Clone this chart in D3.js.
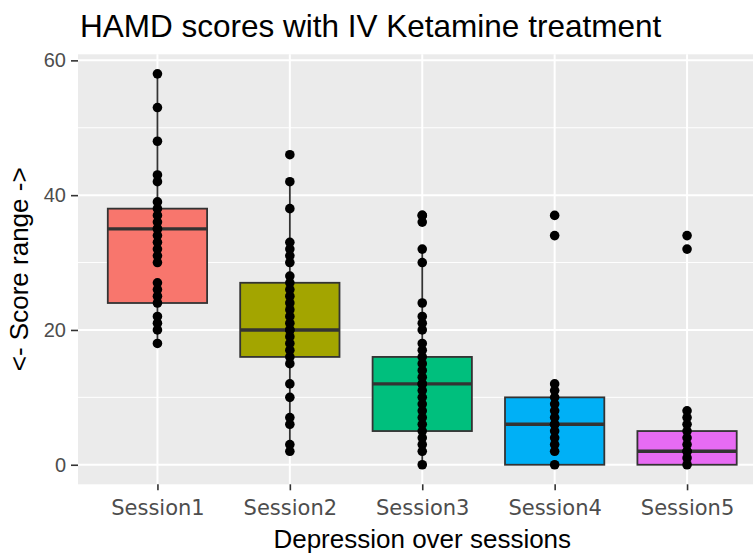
<!DOCTYPE html>
<html>
<head>
<meta charset="utf-8">
<script src="https://cdn.jsdelivr.net/npm/d3@7"></script>
<style>
  body { margin: 0; background: #fff; }
  svg { display: block; }
</style>
</head>
<body>
<div class="container"></div>
<script>
const WIDTH = 753;
const HEIGHT = 554;

// categories
var sessions = ['Session1', 'Session2', 'Session3', 'Session4', 'Session5'];
var fills = ['#F8766D', '#A3A500', '#00BF7D', '#00B0F6', '#E76BF3'];

// individual scores
var session1 = [58, 53, 48, 43, 42, 39, 38, 37, 36, 35, 35, 34, 33, 32, 31, 30, 27, 26, 25, 24, 22, 21, 20, 18];
var session2 = [46, 42, 38, 33, 32, 31, 30, 28, 27, 26, 25, 24, 23, 22, 21, 20, 20, 19, 18, 17, 16, 15, 12, 10, 7, 6, 3, 2];
var session3 = [37, 37, 36, 32, 30, 24, 22, 21, 20, 18, 17, 16, 15, 14, 13, 12, 12, 11, 10, 9, 8, 7, 6, 5, 4, 3, 2, 0];
var session4 = [37, 34, 12, 11, 10, 9, 8, 7, 6, 6, 5, 4, 3, 2, 0];
var session5 = [34, 32, 8, 7, 6, 5, 4, 3, 2, 2, 1, 0];

// box statistics
var whiskerLow = [18, 2, 0, 0, 0];
var q1 = [24, 16, 5, 0, 0];
var median = [35, 20, 12, 6, 2];
var q3 = [38, 27, 16, 10, 5];
var whiskerHigh = [58, 42, 32, 12, 8];

var yTicks = [0, 20, 40, 60];
var yMinor = [10, 30, 50];

var scores = [session1, session2, session3, session4, session5];

var svg = d3.select('.container').append('svg')
    .attr('width', WIDTH)
    .attr('height', HEIGHT);

var panel = {left: 78, right: 766.5, top: 54.3, bottom: 484.3};

var xScale = d3.scalePoint()
    .domain(sessions)
    .range([panel.left, panel.right])
    .padding(0.6);

var yScale = d3.scaleLinear()
    .domain([-2.9, 60.9])
    .range([panel.bottom, panel.top]);

var step = xScale.step();
var boxW = step * 0.75;

// panel background
svg.append('rect')
    .attr('x', panel.left).attr('y', panel.top)
    .attr('width', panel.right - panel.left)
    .attr('height', panel.bottom - panel.top)
    .attr('fill', '#EBEBEB');

// grid
svg.append('g').selectAll('line').data(yMinor)
    .enter().append('line')
    .attr('x1', panel.left).attr('x2', panel.right)
    .attr('y1', d => yScale(d)).attr('y2', d => yScale(d))
    .attr('stroke', '#fff').attr('stroke-width', 1);

svg.append('g').selectAll('line').data(yTicks)
    .enter().append('line')
    .attr('x1', panel.left).attr('x2', panel.right)
    .attr('y1', d => yScale(d)).attr('y2', d => yScale(d))
    .attr('stroke', '#fff').attr('stroke-width', 2);

svg.append('g').selectAll('line').data(sessions)
    .enter().append('line')
    .attr('x1', d => xScale(d)).attr('x2', d => xScale(d))
    .attr('y1', panel.top).attr('y2', panel.bottom)
    .attr('stroke', '#fff').attr('stroke-width', 2);

// boxes
var boxes = svg.append('g').selectAll('g').data(sessions)
    .enter().append('g');

boxes.append('line')
    .attr('x1', d => xScale(d)).attr('x2', d => xScale(d))
    .attr('y1', (d, i) => yScale(whiskerHigh[i]))
    .attr('y2', (d, i) => yScale(q3[i]))
    .attr('stroke', '#333').attr('stroke-width', 1.8);

boxes.append('line')
    .attr('x1', d => xScale(d)).attr('x2', d => xScale(d))
    .attr('y1', (d, i) => yScale(q1[i]))
    .attr('y2', (d, i) => yScale(whiskerLow[i]))
    .attr('stroke', '#333').attr('stroke-width', 1.8);

boxes.append('rect')
    .attr('x', d => xScale(d) - boxW / 2)
    .attr('width', boxW)
    .attr('y', (d, i) => yScale(q3[i]))
    .attr('height', (d, i) => yScale(q1[i]) - yScale(q3[i]))
    .attr('fill', (d, i) => fills[i])
    .attr('stroke', '#333').attr('stroke-width', 1.8);

boxes.append('line')
    .attr('x1', d => xScale(d) - boxW / 2).attr('x2', d => xScale(d) + boxW / 2)
    .attr('y1', (d, i) => yScale(median[i]))
    .attr('y2', (d, i) => yScale(median[i]))
    .attr('stroke', '#333').attr('stroke-width', 3.4);

// points
scores.forEach(function (vals, i) {
    svg.append('g').selectAll('circle').data(vals)
        .enter().append('circle')
        .attr('cx', xScale(sessions[i]))
        .attr('cy', d => yScale(d))
        .attr('r', 4.8)
        .attr('fill', '#000');
});

// axes
var xAxis = d3.axisBottom(xScale).tickSize(6).tickPadding(6);
var gx = svg.append('g')
    .attr('transform', 'translate(0,' + panel.bottom + ')')
    .call(xAxis);
gx.select('.domain').remove();
gx.selectAll('line').attr('stroke', '#333').attr('stroke-width', 1.6);
gx.selectAll('text')
    .attr('fill', '#4d4d4d')
    .style('font-family', 'DejaVu Sans')
    .style('font-size', '21px')
    .attr('dy', '0.9em');

var yAxis = d3.axisLeft(yScale).tickValues(yTicks).tickSize(7).tickPadding(5);
var gy = svg.append('g')
    .attr('transform', 'translate(' + panel.left + ',0)')
    .call(yAxis);
gy.select('.domain').remove();
gy.selectAll('line').attr('stroke', '#333').attr('stroke-width', 1.6);
gy.selectAll('text')
    .attr('fill', '#4d4d4d')
    .style('font-family', 'Liberation Sans')
    .style('font-size', '20px');

// titles
svg.append('text')
    .attr('x', 80).attr('y', 37)
    .style('font-family', 'Liberation Sans')
    .style('font-size', '31.5px')
    .attr('fill', '#000')
    .text('HAMD scores with IV Ketamine treatment');

svg.append('text')
    .attr('x', (panel.left + panel.right) / 2).attr('y', 548)
    .attr('text-anchor', 'middle')
    .style('font-family', 'Liberation Sans')
    .style('font-size', '26px')
    .attr('fill', '#000')
    .text('Depression over sessions');

svg.append('text')
    .attr('transform', 'translate(28,' + ((panel.top + panel.bottom) / 2) + ') rotate(-90)')
    .attr('text-anchor', 'middle')
    .style('font-family', 'Liberation Sans')
    .style('font-size', '26px')
    .attr('fill', '#000')
    .text('<- Score range ->');
</script>
</body>
</html>
